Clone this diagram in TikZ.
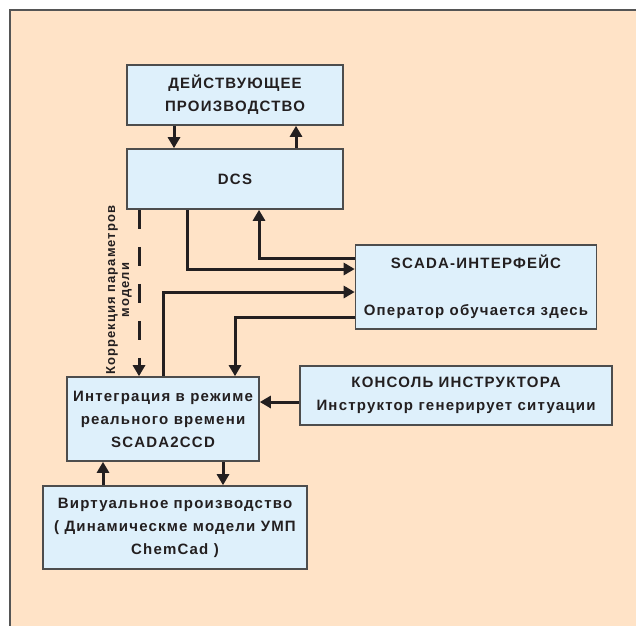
\documentclass[tikz,border=0pt]{standalone}
\usepackage{fontspec}
\setmainfont{Liberation Sans}[LetterSpace=8]
\usetikzlibrary{arrows.meta}
\definecolor{peach}{HTML}{FFE3C7}
\definecolor{boxfill}{HTML}{DEF0FB}
\definecolor{boxedge}{HTML}{4D4D4D}
\definecolor{ink}{HTML}{231F20}
\definecolor{frameedge}{HTML}{555555}

\begin{document}
\begin{tikzpicture}[x=1pt,y=-1pt,
    box/.style={draw=boxedge,line width=1.6pt,fill=boxfill,inner sep=0pt,align=center,
        text=ink,font=\bfseries\fontsize{15}{23}\selectfont},
    link/.style={draw=ink,line width=3pt,-{Triangle[length=11pt,width=12pt]}}]
    \useasboundingbox (0,0) rectangle (636,625);
    \fill[peach] (10,10) rectangle (645,635);
    \draw[frameedge,line width=1.5pt] (10,635) -- (10,10) -- (645,10);

    \node[box,minimum width=216pt,minimum height=60pt] (plant) at (235,95) {ДЕЙСТВУЮЩЕЕ\\ПРОИЗВОДСТВО};
    \node[box,minimum width=216pt,minimum height=60pt] (dcs) at (235,179) {DCS};
    \node[box,minimum width=241pt,minimum height=84pt] (scada) at (476,287) {SCADA-ИНТЕРФЕЙС\\[24pt]Оператор обучается здесь};
    \node[box,minimum width=312pt,minimum height=59pt] (console) at (456,395.5) {КОНСОЛЬ ИНСТРУКТОРА\\Инструктор генерирует ситуации};
    \node[box,minimum width=192pt,minimum height=84pt] (integ) at (163,419) {Интеграция в режиме\\реального времени\\SCADA2CCD};
    \node[box,minimum width=264pt,minimum height=83pt] (virt) at (175,527.5) {Виртуальное производство\\( Динамическме модели УМП\\ChemCad )};
    \node[rotate=90,align=center,text=ink,font=\bfseries\fontsize{13}{14}\selectfont] (corr) at (119,290) {Коррекция параметров\\модели};

    \draw[link] (174,0 |- plant.south) -- (174,0 |- dcs.north);
    \draw[link] (296,0 |- dcs.north) -- (296,0 |- plant.south);
    \draw[link] (187,0 |- dcs.south) |- (scada.west |- 0,269);
    \draw[link] (scada.west |- 0,258) -| (259,0 |- dcs.south);
    \draw[link] (163,0 |- integ.north) |- (scada.west |- 0,292);
    \draw[link] (scada.west |- 0,317) -| (235,0 |- integ.north);
    \draw[link,dash pattern=on 19pt off 18pt] (139,0 |- dcs.south) -- (139,0 |- integ.north);
    \draw[link] (console.west |- 0,402) -- (integ.east |- 0,402);
    \draw[link] (103,0 |- virt.north) -- (103,0 |- integ.south);
    \draw[link] (223,0 |- integ.south) -- (223,0 |- virt.north);
\end{tikzpicture}
\end{document}
